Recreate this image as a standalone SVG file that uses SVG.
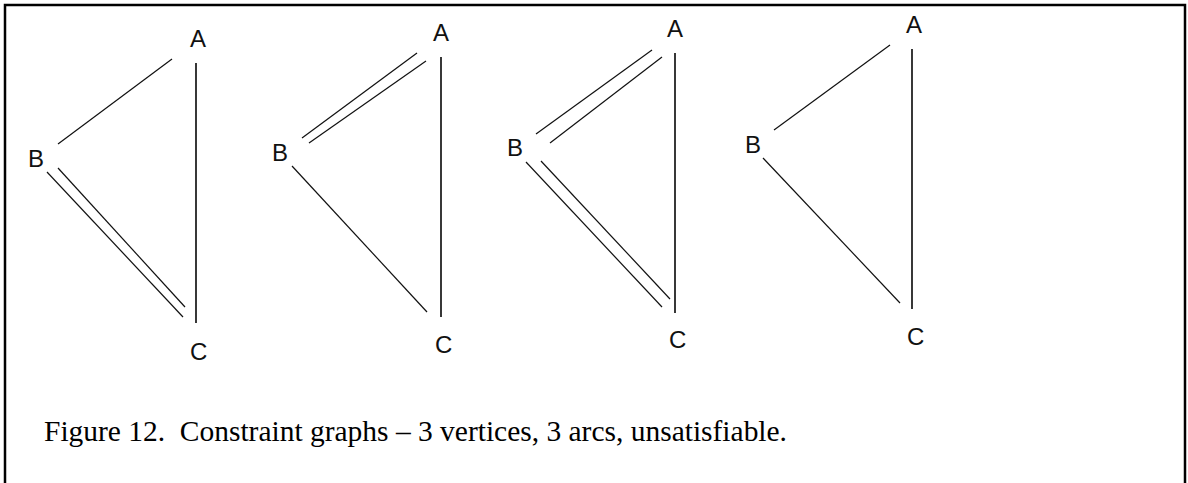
<svg xmlns="http://www.w3.org/2000/svg" width="1188" height="483" viewBox="0 0 1188 483">
<style>
.lbl{font-family:"Liberation Sans",Arial,sans-serif;font-size:24px;fill:#111}
.e{stroke:#111;stroke-width:1.2;fill:none}
.v{stroke:#222;stroke-width:1.8;fill:none}
.cap{font-family:"Liberation Serif","Times New Roman",serif;font-size:30px;fill:#000;white-space:pre}
</style>
<rect x="5" y="5" width="1180" height="500" fill="#fff" stroke="#000" stroke-width="2.5"/>
<g id="connectors">
<!-- graph 1 -->
<line class="e" x1="172" y1="59" x2="58" y2="144"/>
<line class="e" x1="58" y1="168" x2="185" y2="307"/>
<line class="e" x1="47" y1="172" x2="183" y2="317"/>
<line class="v" x1="196" y1="63" x2="196" y2="323"/>
<!-- graph 2 -->
<line class="e" x1="417" y1="53" x2="302" y2="138"/>
<line class="e" x1="426" y1="61" x2="309" y2="143"/>
<line class="e" x1="292" y1="166" x2="427" y2="312"/>
<line class="v" x1="441" y1="57" x2="441" y2="317"/>
<!-- graph 3 -->
<line class="e" x1="652" y1="50" x2="536" y2="134"/>
<line class="e" x1="662" y1="57" x2="550" y2="143"/>
<line class="e" x1="541" y1="161" x2="670" y2="299"/>
<line class="e" x1="526" y1="162" x2="662" y2="307"/>
<line class="v" x1="675" y1="53" x2="675" y2="313"/>
<!-- graph 4 -->
<line class="e" x1="890" y1="45" x2="774" y2="130"/>
<line class="e" x1="763" y1="158" x2="900" y2="303"/>
<line class="v" x1="912" y1="49" x2="912" y2="309"/>
</g>
<g id="g1A"><text class="lbl" x="190" y="47">A</text></g>
<g id="g1B"><text class="lbl" x="28" y="167">B</text></g>
<g id="g1C"><text class="lbl" x="190" y="360">C</text></g>
<g id="g2A"><text class="lbl" x="433" y="41">A</text></g>
<g id="g2B"><text class="lbl" x="272" y="161">B</text></g>
<g id="g2C"><text class="lbl" x="435" y="353">C</text></g>
<g id="g3A"><text class="lbl" x="667" y="37">A</text></g>
<g id="g3B"><text class="lbl" x="507" y="156">B</text></g>
<g id="g3C"><text class="lbl" x="669" y="348">C</text></g>
<g id="g4A"><text class="lbl" x="906" y="33">A</text></g>
<g id="g4B"><text class="lbl" x="745" y="153">B</text></g>
<g id="g4C"><text class="lbl" x="907" y="345">C</text></g>
<g id="caption"><text class="cap" x="44" y="441" textLength="743" lengthAdjust="spacingAndGlyphs" xml:space="preserve">Figure 12.  Constraint graphs – 3 vertices, 3 arcs, unsatisfiable.</text></g>
</svg>
